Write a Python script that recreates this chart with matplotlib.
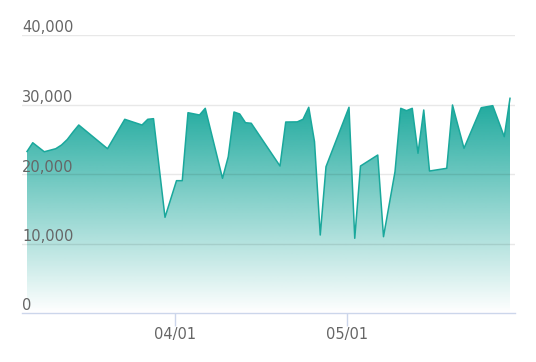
import numpy as np
import pandas as pd
import matplotlib
matplotlib.use("Agg")
import matplotlib.pyplot as plt
import matplotlib.dates as mdates
from matplotlib.patches import Polygon
from matplotlib.ticker import FixedLocator
import matplotlib.transforms as mtrans

dates = ["2024-03-06", "2024-03-07", "2024-03-09", "2024-03-11", "2024-03-12",
         "2024-03-13", "2024-03-14", "2024-03-15", "2024-03-20", "2024-03-23",
         "2024-03-26", "2024-03-27", "2024-03-28", "2024-03-30", "2024-04-01",
         "2024-04-02", "2024-04-03", "2024-04-05", "2024-04-06", "2024-04-09",
         "2024-04-10", "2024-04-11", "2024-04-12", "2024-04-13", "2024-04-14",
         "2024-04-19", "2024-04-20", "2024-04-22", "2024-04-23", "2024-04-24",
         "2024-04-25", "2024-04-26", "2024-04-27", "2024-05-01", "2024-05-02",
         "2024-05-03", "2024-05-06", "2024-05-07", "2024-05-09", "2024-05-10",
         "2024-05-11", "2024-05-12", "2024-05-13", "2024-05-14", "2024-05-15",
         "2024-05-18", "2024-05-19", "2024-05-21", "2024-05-24", "2024-05-26",
         "2024-05-28", "2024-05-29"]
values = [23240, 24500, 23200, 23640, 24170,
          24960, 26040, 27050, 23640, 27870,
          27050, 27870, 27960, 13770, 19040,
          19040, 28820, 28490, 29450, 19380,
          22490, 28920, 28630, 27380, 27300,
          21150, 27480, 27500, 27870, 29600,
          24650, 11220, 21050, 29600, 10750,
          21150, 22730, 10980, 20330, 29450,
          29110, 29450, 22980, 29210, 20430,
          20820, 29930, 23700, 29540, 29830,
          25370, 30890]
y_ticks = [0, 10000, 20000, 30000, 40000]
x_ticks = ["2024-04-01", "2024-05-01"]

base = np.array([26, 168, 156]) / 255.0
text_c = "#666666"

# timestamps are recorded in the morning, ticks sit at midnight
d = mdates.date2num(pd.to_datetime(dates) + pd.Timedelta(hours=8))
v = np.array(values, dtype=float)

fig = plt.figure(figsize=(5.36, 3.62), dpi=100)
ax = fig.add_axes([22 / 536, 49 / 362, 493 / 536, 278 / 362])

# gradient fill under the line
vmax = v.max()
grad = np.linspace(1, 0, 256)[:, None]
img = np.ones((256, 1, 4))
img[..., :3] = base
img[..., 3] = grad
pad = 0.87
im = ax.imshow(img, extent=[d[0], d[-1], 0, vmax], aspect="auto",
               origin="upper", zorder=1, interpolation="bilinear")
verts = np.column_stack([np.r_[d[0], d, d[-1]], np.r_[0, v, 0]])
poly = Polygon(verts, closed=True, facecolor="none", edgecolor="none")
ax.add_patch(poly)
im.set_clip_path(poly)
ax.set_xlim(d[0] - pad, d[-1] + pad)
ax.set_ylim(0, 40000)

ax.plot(d, v, color="#1aa89c", lw=1.1, zorder=3)

# grid lines
for t in y_ticks[1:]:
    ax.axhline(t, color=(0, 0, 0, 0.09), lw=1, zorder=2)

for s in ["left", "right", "top"]:
    ax.spines[s].set_visible(False)
ax.spines["bottom"].set_color("#ccd6eb")
ax.spines["bottom"].set_linewidth(1)
ax.spines["bottom"].set_zorder(4)

ax.set_yticks([])
xt = mdates.date2num(pd.to_datetime(x_ticks))
ax.xaxis.set_major_locator(FixedLocator(xt))
ax.set_xticklabels(pd.to_datetime(x_ticks).strftime("%m/%d"))
ax.tick_params(axis="x", length=9, width=1, color="#ccd6eb", pad=1,
               labelsize=10.5, labelcolor=text_c)

off = mtrans.offset_copy(ax.get_yaxis_transform(), fig=fig, x=0, y=2.5, units="dots")
for t in y_ticks:
    ax.text(0, t, f"{t:,}", transform=off, ha="left", va="baseline",
            fontsize=10.5, color=text_c, zorder=5)

fig.savefig("out.png", dpi=100)
